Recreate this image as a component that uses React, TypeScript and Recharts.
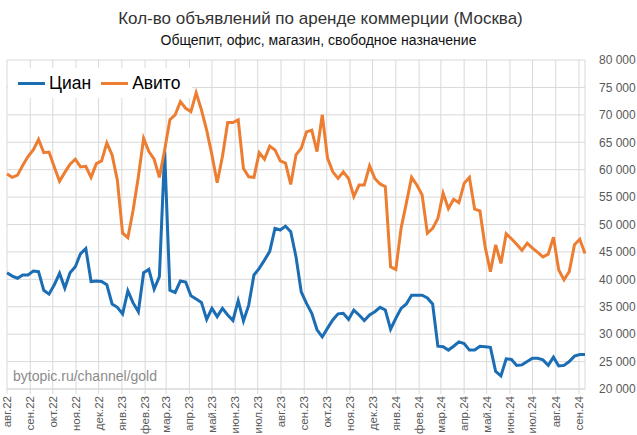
import { LineChart, Line, XAxis, YAxis, CartesianGrid } from "recharts";

// Weekly listings, Aug 2022 - Sep 2024
const monthLabels = [
  "авг.22", "сен.22", "окт.22", "ноя.22", "дек.22", "янв.23", "фев.23", "мар.23",
  "апр.23", "май.23", "июн.23", "июл.23", "авг.23", "сен.23", "окт.23", "ноя.23",
  "дек.23", "янв.24", "фев.24", "мар.24", "апр.24", "май.24", "июн.24", "июл.24",
  "авг.24", "сен.24",
];

const cian = [
  41200, 40600, 40200, 40800, 40800, 41500, 41400, 38000, 37300, 39000,
  41100, 38400, 41200, 42300, 44700, 45600, 39600, 39700, 39600, 39000,
  35500, 34900, 33700, 37900, 35700, 34100, 41200, 41800, 38200, 40500,
  63300, 38000, 37600, 39700, 39500, 37000, 36400, 35800, 32700, 34700,
  33200, 34700, 33500, 32500, 36100, 32400, 35300, 40800, 42000, 43500,
  45100, 49300, 49000, 49700, 48700, 44100, 37700, 35600, 33800, 30800,
  29500, 31100, 32600, 33700, 33800, 32700, 34400, 33500, 32500, 33500,
  34100, 34900, 34400, 30900, 32900, 34700, 35500, 37100, 37100, 37100,
  36600, 35500, 27800, 27700, 27100, 27800, 28600, 28300, 27100, 27100,
  27800, 27700, 27600, 23200, 22400, 25500, 25400, 24300, 24400, 25000,
  25600, 25600, 25300, 24300, 25800, 24200, 24300, 25000, 26000, 26300,
  26300,
];

const avito = [
  59200, 58600, 59000, 60800, 62400, 63600, 65500, 63100, 63200, 60500,
  57900, 59500, 61000, 61900, 60500, 60600, 58600, 61100, 61600, 64900,
  62700, 58100, 48400, 47600, 52600, 58700, 65700, 63300, 61900, 58600,
  63600, 69100, 70000, 72400, 71200, 70600, 74000, 70900, 67200, 62700,
  57600, 62400, 68600, 68600, 69100, 60200, 58700, 58600, 63100, 61900,
  64300, 63600, 61600, 61200, 57300, 62700, 63900, 66900, 67200, 63300,
  70000, 62100, 59600, 58400, 59600, 58400, 55100, 57200, 57200, 60700,
  58400, 57400, 56900, 42300, 41800, 49300, 53900, 58600, 57200, 55400,
  48400, 49300, 51100, 55700, 52900, 54600, 54000, 57500, 58600, 52800,
  52500, 45900, 41400, 46300, 42900, 48300, 47400, 46400, 45300, 46600,
  45700, 44900, 44100, 44600, 47700, 41700, 39900, 41400, 46300, 47300,
  44700,
];

const yTicks = [20000, 25000, 30000, 35000, 40000, 45000, 50000, 55000, 60000, 65000, 70000, 75000, 80000];

// month starts expressed in weeks from the first point (1 Aug 2022)
const START = Date.UTC(2022, 7, 1);
const WEEK = 7 * 24 * 3600 * 1000;
const monthTicks = monthLabels.map((_, k) => (Date.UTC(2022, 7 + k, 1) - START) / WEEK);

const data = cian.map((v, i) => ({ week: i, cian: v, avito: avito[i] }));

const BLUE = "#1b6db4";
const ORANGE = "#ed7d31";
const FONT = "'Liberation Sans', Arial, sans-serif";

const fmt = (v: number) => String(v).replace(/\B(?=(\d{3})+(?!\d))/g, " ");

const MonthTick = (props: any) => {
  const { x, y, payload } = props;
  const k = monthTicks.findIndex((t) => Math.abs(t - payload.value) < 0.01);
  return (
    <text
      x={x}
      y={y}
      transform={`rotate(-90, ${x}, ${y})`}
      textAnchor="end"
      dy="0.35em"
      fontSize={11.5}
      fontFamily={FONT}
      fill="#595959"
    >
      {monthLabels[k]}
    </text>
  );
};

export default function App() {
  return (
    <div style={{ position: "absolute", left: 0, top: 0, width: 637, height: 435, background: "#fff", fontFamily: FONT }}>
      <div style={{ position: "absolute", top: 9, left: 2, width: 637, textAlign: "center", fontSize: 17, color: "#333" }}>
        Кол-во объявлений по аренде коммерции (Москва)
      </div>
      <div style={{ position: "absolute", top: 32, left: 0, width: 637, textAlign: "center", fontSize: 14, color: "#111" }}>
        Общепит, офис, магазин, свободное назначение
      </div>

      <LineChart width={637} height={435} data={data} margin={{ top: 60, right: 0, bottom: 0, left: 7 }}>
        <CartesianGrid stroke="#d9d9d9" strokeWidth={1} />
        <XAxis
          dataKey="week"
          type="number"
          domain={[0, 110]}
          ticks={monthTicks}
          interval={0}
          height={46}
          axisLine={{ stroke: "#d9d9d9" }}
          tickLine={{ stroke: "#d9d9d9" }}
          tickSize={5}
          tickMargin={2}
          tick={<MonthTick />}
        />
        <YAxis
          orientation="right"
          domain={[20000, 80000]}
          ticks={yTicks}
          width={52}
          axisLine={false}
          tickLine={false}
          tickSize={0}
          tickMargin={14}
          tickFormatter={fmt}
          tick={{ fontSize: 12, fill: "#595959", fontFamily: FONT, textAnchor: "start" }}
        />
        <Line type="linear" dataKey="cian" stroke={BLUE} strokeWidth={3} dot={false} isAnimationActive={false} />
        <Line type="linear" dataKey="avito" stroke={ORANGE} strokeWidth={3} dot={false} isAnimationActive={false} />
      </LineChart>

      {/* legend */}
      <div style={{ position: "absolute", left: 8, top: 68, width: 184, height: 30, background: "#fff", display: "flex", alignItems: "center", fontSize: 17.5, color: "#000" }}>
        <span style={{ display: "inline-block", width: 27, height: 3, background: BLUE, marginLeft: 10, marginRight: 4 }} />
        <span>Циан</span>
        <span style={{ display: "inline-block", width: 27, height: 3, background: ORANGE, marginLeft: 10, marginRight: 4 }} />
        <span>Авито</span>
      </div>

      <div style={{ position: "absolute", left: 13, top: 368, fontSize: 14, color: "#8c8c8c" }}>
        bytopic.ru/channel/gold
      </div>
    </div>
  );
}
